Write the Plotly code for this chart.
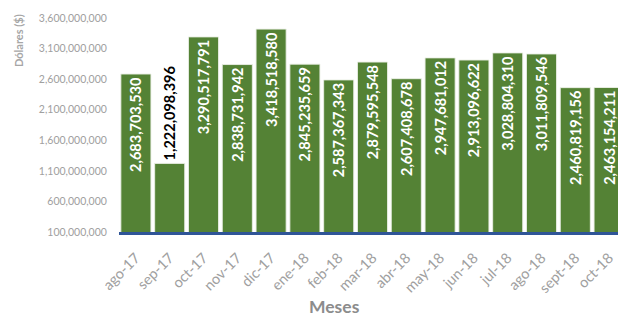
import plotly.graph_objects as go

months = ["ago-17", "sep-17", "oct-17", "nov-17", "dic-17", "ene-18", "feb-18", "mar-18",
          "abr-18", "may-18", "jun-18", "jul-18", "ago-18", "sept-18", "oct-18"]
values = [2683703530, 1222098396, 3290517791, 2838731942, 3418518580, 2845235659,
          2587367343, 2879595548, 2607408678, 2947681012, 2913096622, 3028804310,
          3011809546, 2460819156, 2463154211]
y_ticks = [100000000, 600000000, 1100000000, 1600000000, 2100000000,
           2600000000, 3100000000, 3600000000]

FONT = "Lato"
labels = [f"{v:,}" for v in values]
positions = ["outside" if v < 1500000000 else "inside" for v in values]
text_colors = ["#000000" if p == "outside" else "#FFFFFF" for p in positions]

# page body has an 8px margin, so the figure is sized/placed to compensate
OFF = 8
PL, PT, PB = 119, 18, 232  # plot area in window pixels
W, H = 626 - OFF, 318 - OFF
PW, PH = 626 - PL, PB - PT

fig = go.Figure(go.Bar(
    x=months, y=values, text=labels, textposition=positions,
    textangle=-90, insidetextanchor="end", constraintext="none",
    textfont=dict(family=FONT, size=14.5, color=text_colors, weight="bold"),
    marker=dict(color="#548235", line=dict(color="rgba(235,240,230,0.9)", width=1)),
    cliponaxis=False,
))

fig.update_layout(
    width=W, height=H,
    margin=dict(l=PL - OFF, r=0, t=PT - OFF, b=318 - PB, autoexpand=False),
    paper_bgcolor="white", plot_bgcolor="white",
    bargap=0.11, showlegend=False,
    font=dict(family=FONT, color="#A0A0A0"),
    xaxis=dict(tickangle=-45, tickfont=dict(size=14.5, color="#A0A0A0"),
               showline=True, linecolor="#2F5597", linewidth=2.5,
               showgrid=False, ticks="outside", ticklen=9, tickcolor="rgba(0,0,0,0)",
               automargin=False),
    yaxis=dict(range=[y_ticks[0], y_ticks[-1]], tickvals=y_ticks, tickformat=",",
               tickfont=dict(size=10.5, color="#A0A0A0"), showgrid=False, zeroline=False,
               ticks="outside", ticklen=9, tickcolor="rgba(0,0,0,0)", automargin=False),
    annotations=[
        dict(text="<b>Dólares ($)</b>", xref="paper", yref="paper",
             x=(19 - PL) / PW, y=(PB - 41) / PH, xanchor="center", yanchor="middle",
             textangle=-90, showarrow=False, font=dict(size=11, color="#A6A6A6", family=FONT)),
        dict(text="<b>Meses</b>", xref="paper", yref="paper",
             x=(334 - PL) / PW, y=(PB - 306) / PH, xanchor="center", yanchor="middle",
             showarrow=False, font=dict(size=17.5, color="#8C8C8C", family=FONT)),
    ],
)

fig.write_html("out.html")
